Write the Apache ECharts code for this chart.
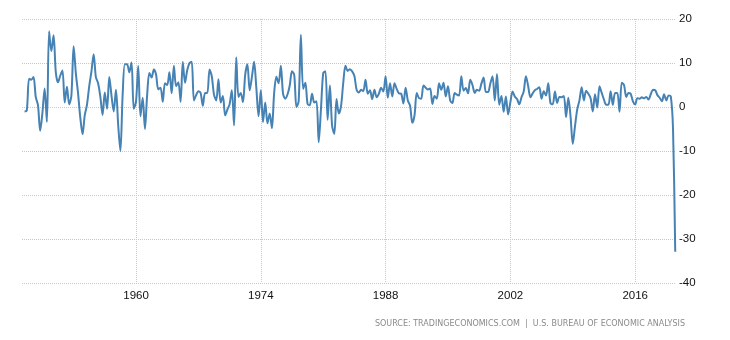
<!DOCTYPE html>
<html><head><meta charset="utf-8">
<script src="https://cdn.jsdelivr.net/npm/echarts@6/dist/echarts.min.js"></script>
<style>html,body{margin:0;padding:0;background:#fff}#c{width:730px;height:340px}</style>
</head><body><div id="c"></div><script>
// US GDP growth rate, quarter-on-quarter annualized (%), from 1947 Q2 to 2020 Q2
const firstYear = 1947, firstQuarter = 2;
const values1940s = [-1.0,-0.8,6.4, 6.2,6.8,2.3,0.4, -5.4,-1.4,4.2,-3.4];
const values1950s = [17.2,12.7,16.3,7.9, 5.6,7.1,8.3,1.0, 4.6,0.6,2.6,13.8, 7.7,3.1,-2.4,-6.2, -1.9,0.5,4.7,8.1,
  12.0,6.8,5.4,2.3, -1.8,3.3,-0.4,6.8, 2.6,-1.0,3.9,-4.1, -10.0,2.6,9.7,9.7, 7.9,10.1,-0.4,1.2];
const values1960s = [9.3,-2.1,2.1,-5.0, 2.7,7.7,6.7,8.5, 7.4,4.0,4.4,1.2, 5.4,5.0,7.9,3.1, 9.4,4.7,5.6,1.2,
  10.2,5.5,8.4,10.0, 10.3,1.5,2.7,3.6, 3.2,0.3,3.2,3.2, 8.5,7.0,2.8,1.5, 6.3,1.0,2.5,-1.9];
const values1970s = [-0.6,0.6,3.8,-4.2, 11.3,2.3,3.2,1.1, 7.3,9.7,3.8,6.8, 10.3,4.4,-2.1,3.8, -3.4,1.0,-3.7,-1.5,
  -4.8,3.1,6.9,5.4, 9.4,3.0,1.9,2.9, 4.9,8.1,7.3,0.0, 1.3,16.4,4.1,5.5, 0.7,0.4,3.0,1.0];
const values1980s = [1.3,-8.0,-0.5,7.7, 8.1,-2.9,4.9,-4.3, -6.1,1.8,-1.5,0.2, 5.4,9.4,8.2,8.6, 8.1,7.1,3.9,3.3,
  3.9,3.6,6.2,3.0, 3.8,1.8,3.9,2.2, 3.0,4.4,3.5,7.0, 2.1,5.4,2.4,5.4, 4.1,3.1,3.0,0.8];
const values1990s = [4.4,1.5,0.3,-3.6, -1.9,3.2,2.0,1.9, 4.9,4.4,4.0,4.2, 0.7,2.5,1.9,5.4, 3.9,5.5,2.4,4.7,
  1.5,0.9,3.2,2.8, 2.6,7.0,3.7,4.3, 3.1,6.2,5.0,3.2, 3.9,3.7,5.3,6.7, 3.4,3.4,5.3,7.0];
const values2000s = [1.5,7.5,0.5,2.5, -1.1,2.4,-1.7,1.1, 3.5,2.4,1.8,0.6, 2.2,3.5,7.0,4.7, 2.2,3.1,3.8,4.1,
  4.5,1.9,3.6,2.6, 5.4,0.9,0.6,3.5, 0.9,2.3,2.2,2.5, -2.3,2.1,-2.1,-8.4, -4.4,-0.6,1.5,4.5];
const values2010s = [1.5,3.7,3.0,2.0, -1.0,2.9,-0.1,4.7, 3.2,1.7,0.5,0.5, 3.6,0.5,3.2,3.2, -1.1,5.5,5.0,2.3,
  3.2,3.0,1.3,0.6, 2.0,1.9,2.2,2.0, 2.3,1.7,2.9,3.9, 3.8,2.7,2.1,1.3, 2.9,1.5,2.6,2.4];
const values2020s = [-5.0,-32.9];
const xTickYears = [1960, 1974, 1988, 2002, 2016];
const yTicks = [-40, -30, -20, -10, 0, 10, 20];
const sourceText = 'SOURCE: TRADINGECONOMICS.COM  |  U.S. BUREAU OF ECONOMIC ANALYSIS';

const allValues = [].concat(values1940s, values1950s, values1960s, values1970s, values1980s,
  values1990s, values2000s, values2010s, values2020s);
// quarter-end dates (as timestamps on a linear axis)
const qEnd = [[2,31],[5,30],[8,30],[11,31]];
const seriesData = allValues.map((v, i) => {
  const qi = firstQuarter - 1 + i;
  const y = firstYear + Math.floor(qi / 4);
  const q = qi % 4;
  return [Date.UTC(y, qEnd[q][0], qEnd[q][1]), v];
});
const xTickValues = xTickYears.map(y => Date.UTC(y, 0, 1));

const chart = echarts.init(document.getElementById('c'), null, {renderer: 'canvas'});
const gridLine = {show: true, lineStyle: {type: 'dotted', color: '#c8c8c8', width: 1}};
chart.setOption({
  animation: false,
  backgroundColor: '#fff',
  grid: {left: 22, right: 54, top: 19, bottom: 57, containLabel: false, outerBoundsMode: 'none'},
  xAxis: {
    type: 'value',
    min: Date.UTC(1947, 2, 17),
    max: Date.UTC(2020, 6, 31),
    axisLine: {show: false},
    axisTick: {show: false, customValues: xTickValues},
    splitLine: gridLine,
    axisLabel: {
      customValues: xTickValues,
      formatter: v => String(new Date(v).getUTCFullYear()),
      color: '#111', fontSize: 11.5, fontFamily: 'Liberation Sans, Arial, sans-serif', margin: 7
    }
  },
  yAxis: {
    type: 'value',
    position: 'right',
    min: yTicks[0], max: yTicks[yTicks.length - 1], interval: 10,
    axisLine: {show: false},
    axisTick: {show: false},
    splitLine: gridLine,
    axisLabel: {color: '#111', fontSize: 11.5, fontFamily: 'Liberation Sans, Arial, sans-serif', margin: 3}
  },
  series: [{
    type: 'line',
    data: seriesData,
    showSymbol: false,
    smooth: 0.3,
    lineStyle: {color: '#4682b4', width: 2},
    itemStyle: {color: '#4682b4'}
  }],
  graphic: [{
    type: 'text',
    right: 45,
    top: 320,
    style: {text: sourceText, fill: '#8a8a8a', font: '8px "DejaVu Sans", Verdana, sans-serif'}
  }]
});
</script></body></html>
